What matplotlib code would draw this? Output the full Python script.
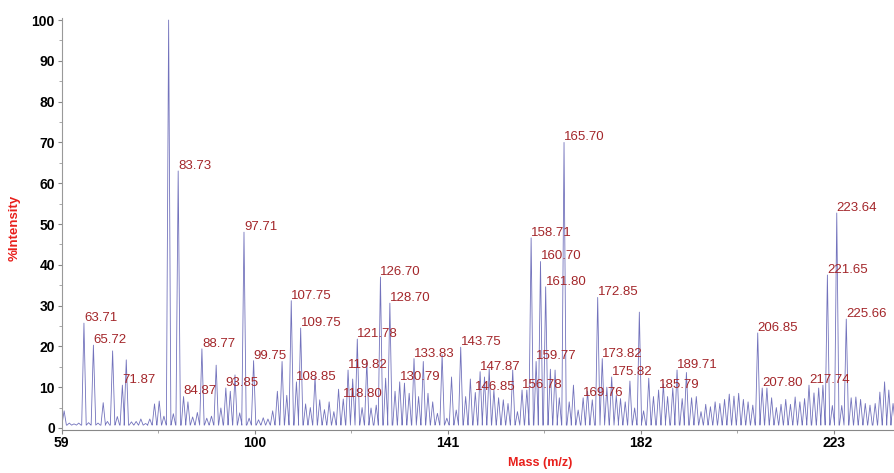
import numpy as np
import matplotlib
matplotlib.use("Agg")
import matplotlib.pyplot as plt
from matplotlib.ticker import MultipleLocator, FixedLocator

plt.rcParams['font.family'] = ['Liberation Sans', 'DejaVu Sans']

# peak list (m/z, % intensity)
mass_a = [59.5, 60.6, 61.6, 62.6, 63.71, 64.7, 65.72, 66.7, 67.8, 68.7, 69.8, 70.8,
          71.87, 72.7, 73.8, 74.8, 75.8, 76.8, 77.7, 78.7, 79.7, 80.7, 81.7, 82.7,
          83.73, 84.87, 85.8, 86.8, 87.8, 88.77, 89.8, 90.8]
int_a = [4.2, 1.2, 1.0, 1.2, 25.7, 1.3, 20.3, 1.2, 6.2, 1.6, 18.9, 2.8,
         10.5, 16.7, 1.5, 1.6, 2.2, 1.1, 2.2, 5.9, 6.6, 2.9, 100, 3.5,
         63, 7.7, 6.4, 2.7, 3.8, 19.4, 2.4, 2.9]

mass_b = [91.8, 92.8, 93.85, 94.8, 95.8, 96.8, 97.71, 98.8, 99.75, 100.8, 101.8, 102.8,
          103.8, 104.8, 105.8, 106.8, 107.75, 108.85, 109.75, 110.8, 111.8, 112.8, 113.8,
          114.8, 115.8, 116.8, 117.8, 118.80, 119.82, 120.8, 121.78, 122.8, 123.8, 124.7,
          125.8, 126.70, 127.8, 128.70, 129.8]
int_b = [15.4, 4.9, 9.8, 9.0, 13.0, 3.7, 48, 2.4, 16.5, 2.0, 2.5, 2.2,
         4.2, 9.0, 16.3, 8.0, 31.2, 11.3, 24.5, 5.9, 5.0, 12.5, 6.9,
         4.5, 6.4, 4.0, 9.5, 7.1, 14.2, 12.0, 21.8, 5.0, 16.5, 4.9,
         5.6, 37, 12.2, 30.6, 9.0]

mass_c = [130.79, 131.8, 132.8, 133.83, 134.8, 135.8, 136.8, 137.8, 138.8, 139.8, 140.8,
          141.8, 142.8, 143.75, 144.8, 145.8, 146.85, 147.87, 148.8, 149.8, 150.8, 151.8,
          152.8, 153.8, 154.8, 155.8, 156.78, 157.8, 158.71, 159.77, 160.70, 161.80, 162.8,
          163.8, 164.7, 165.70, 166.8, 167.7, 168.7, 169.76]
int_c = [11.3, 11.0, 8.5, 17.0, 7.7, 16.3, 8.5, 6.4, 3.6, 18.0, 2.4,
         12.5, 4.4, 19.8, 7.7, 12.0, 8.7, 13.8, 12.5, 14.5, 9.3, 7.4,
         6.9, 6.0, 14.2, 4.0, 9.3, 9.3, 46.6, 16.3, 40.8, 34.6, 14.4,
         14.2, 7.4, 70, 6.4, 10.5, 4.4, 7.4]

mass_d = [170.7, 171.7, 172.85, 173.82, 174.8, 175.82, 176.8, 177.7, 178.7, 179.7, 180.7,
          181.7, 182.6, 183.7, 184.7, 185.79, 186.8, 187.7, 188.8, 189.71, 190.8, 191.7,
          192.8, 193.8, 194.8, 195.8, 196.8, 197.8, 198.8, 199.8, 200.8, 201.8, 202.8,
          203.8, 204.8, 205.8, 206.85]
int_d = [9.0, 6.9, 32, 17, 10, 12.5, 8.0, 7.2, 6.4, 11.5, 4.9,
         28.4, 4.2, 12.2, 7.7, 9.3, 10.8, 7.7, 9.8, 14.2, 7.2, 13.6,
         7.4, 7.7, 4.0, 5.8, 5.2, 6.4, 6.0, 7.0, 8.3, 7.8, 8.5,
         7.0, 6.4, 5.6, 23.3]

mass_e = [207.80, 208.8, 209.8, 210.8, 211.8, 212.8, 213.8, 214.8, 215.8, 216.8, 217.74,
          218.8, 219.8, 220.7, 221.65, 222.7, 223.64, 224.7, 225.66, 226.7, 227.7, 228.7,
          229.7, 230.7, 231.8, 232.8, 233.8, 234.7, 235.6]
int_e = [9.8, 9.8, 7.4, 5.0, 5.8, 7.0, 5.8, 7.6, 6.4, 7.2, 10.5,
         8.6, 9.8, 10.5, 37.5, 5.5, 52.7, 5.5, 26.7, 7.4, 7.6, 7.0,
         6.0, 5.6, 6.0, 8.8, 11.3, 9.3, 6.0]

# annotated peaks
labelled = [63.71, 65.72, 71.87, 83.73, 84.87, 88.77, 93.85, 97.71, 99.75,
            107.75, 108.85, 109.75, 118.80, 119.82, 121.78, 126.70, 128.70,
            130.79, 133.83, 143.75, 146.85, 147.87, 156.78, 158.71, 159.77,
            160.70, 161.80, 165.70, 169.76, 172.85, 173.82, 175.82, 185.79,
            189.71, 206.85, 207.80, 217.74, 221.65, 223.64, 225.66]

masses = mass_a + mass_b + mass_c + mass_d + mass_e
heights = int_a + int_b + int_c + int_d + int_e
peak_h = dict(zip(masses, heights))

# profile trace: each peak drawn as a narrow spike on the baseline
half_w = 0.48
base = 0.7
px, py = [59.0], [base]
for m, h in zip(masses, heights):
    px += [m - half_w, m, m + half_w]
    py += [base, h, base]
px.append(236.0)
py.append(base)

fig = plt.figure(figsize=(8.94, 4.73), dpi=100)
ax = fig.add_axes([0.0691, 0.0909, 0.9309, 0.8710])
ax.plot(px, py, color='#7272bc', lw=0.6)

for m in labelled:
    ax.annotate(f"{m:.2f}", (m, peak_h[m]), xytext=(0, 1.5), textcoords='offset points',
                ha='left', va='baseline', fontsize=9.5, color='#a3262a')

ax.set_xlim(59, 235.8)
ax.set_ylim(-0.5, 100.5)
ax.xaxis.set_major_locator(FixedLocator([59, 100, 141, 182, 223]))
ax.xaxis.set_minor_locator(FixedLocator([79.5, 120.5, 161.5, 202.5]))
ax.yaxis.set_major_locator(MultipleLocator(10))
ax.yaxis.set_minor_locator(MultipleLocator(5))
ax.tick_params(axis='both', which='major', direction='out', length=3, width=0.8,
               color='#888888', labelsize=10)
ax.tick_params(axis='both', which='minor', direction='out', length=2, width=0.6,
               color='#999999')
ax.tick_params(axis='y', pad=2)
ax.tick_params(axis='x', pad=1)
for lab in ax.get_xticklabels() + ax.get_yticklabels():
    lab.set_fontweight('bold')

ax.spines['top'].set_visible(False)
ax.spines['right'].set_visible(False)
ax.spines['left'].set_color('#999999')
ax.spines['bottom'].set_color('#888888')
ax.spines['left'].set_linewidth(0.8)
ax.spines['bottom'].set_linewidth(0.8)

fig.text(15 / 894, 1 - 228 / 473, '%Intensity', rotation=90, ha='center', va='center',
         color='#e8201c', fontweight='bold', fontsize=9.5)
fig.text(540 / 894, 1 - 463 / 473, 'Mass (m/z)', ha='center', va='center',
         color='#e8201c', fontweight='bold', fontsize=9)

fig.savefig('out.png', dpi=100)
